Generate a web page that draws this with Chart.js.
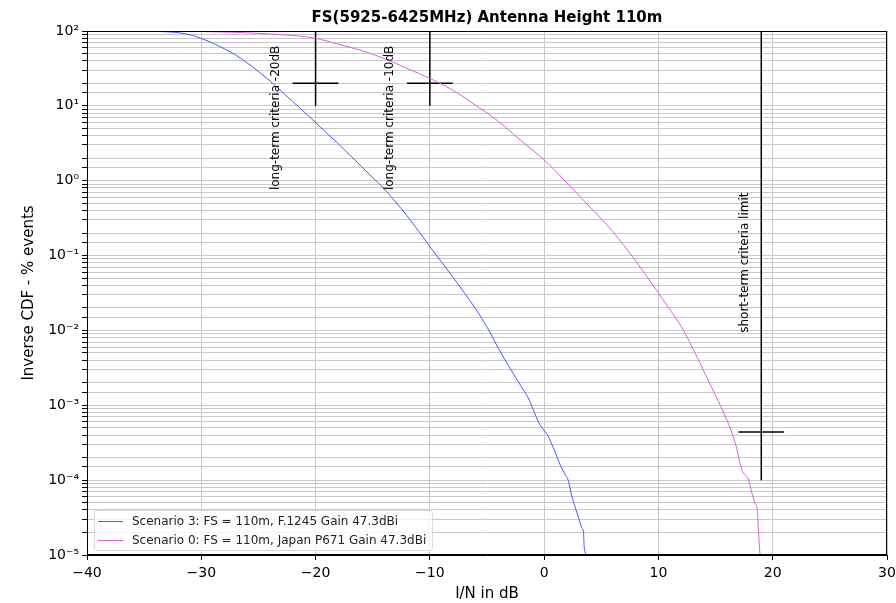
<!DOCTYPE html>
<html>
<head>
  <title>FS(5925-6425MHz) Antenna Height 110m</title>
  <script src="https://cdn.jsdelivr.net/npm/chart.js"></script>
  <style>
    body { margin: 0; background: white; }
    #wrap { width: 896px; height: 603px; }
  </style>
</head>
<body>
  <div id="wrap"><canvas id="cdfChart" width="896" height="603"></canvas></div>

  <script>
    // Curves (I/N in dB -> % of events exceeded)
    const scenario3Label = "Scenario 3: FS = 110m, F.1245 Gain 47.3dBi";
    const scenario3X = [-40, -38, -36, -35, -34, -33, -32, -31, -30, -29, -28, -27, -26, -25, -24, -23, -22, -21, -20,
      -19, -18, -17, -16, -15, -14, -13, -12, -11, -10, -9, -8, -7, -6, -5, -4, -3, -2, -1.4, -1, -0.4, 0,
      0.3, 0.6, 1.0, 1.3, 1.6, 1.9, 2.1, 2.4, 2.7, 3.0, 3.3, 3.45, 3.5, 3.8];
    const scenario3Y = [99.99, 99.95, 99.7, 99.4, 98.7, 97.6, 95, 89, 79.4, 69, 58, 47.9, 37.6, 28.8, 21.6, 15.7, 11.4, 8.3, 6.0,
      4.3, 3.1, 2.2, 1.56, 1.10, 0.78, 0.52, 0.34, 0.214, 0.132, 0.083, 0.052, 0.032, 0.0195, 0.0111, 0.00575, 0.00316, 0.00178, 0.00126, 9.1e-4, 5.6e-4, 4.6e-4,
      4.0e-4, 3.2e-4, 2.3e-4, 1.74e-4, 1.38e-4, 1.15e-4, 1.0e-4, 6.3e-5, 4.4e-5, 3.2e-5, 2.3e-5, 2.0e-5, 1.3e-5, 9.5e-6];

    const scenario0Label = "Scenario 0: FS = 110m, Japan P671 Gain 47.3dBi";
    const scenario0X = [-40, -35, -30, -27, -25, -22, -20, -18, -16, -15, -13, -12, -10, -8, -6, -4, -2, 0, 1,
      2, 3, 4, 5, 6, 7, 8, 9, 10, 11, 12, 13, 14, 15, 16, 16.5, 16.85, 17.1, 17.3, 17.6, 17.85, 18.15, 18.45, 18.65, 18.75, 18.88, 18.95];
    const scenario0Y = [99.99, 99.7, 98.5, 96, 93, 87, 80, 66.5, 55, 49, 37, 31.6, 23.3, 16.2, 10.2, 6.2, 3.4, 1.9, 1.35,
      0.93, 0.645, 0.447, 0.31, 0.21, 0.135, 0.085, 0.052, 0.0316, 0.019, 0.0112, 0.0058, 0.0028, 0.00135, 6.3e-4, 4.0e-4, 2.66e-4, 1.78e-4, 1.37e-4, 1.17e-4, 1.06e-4, 7.0e-5, 4.9e-5, 4.0e-5, 2.16e-5, 1.05e-5, 8e-6];

    // Criteria crosses: vertical line from bottom to 100 %, short horizontal bar at the level
    const criteriaX = [-20, -10, 19];
    const criteriaLevel = [20, 20, 4.4e-4];
    const criteriaBottom = [10, 10, 1e-4];
    const criteriaTop = 100;
    const criteriaHalfWidth = 2;

    // Rotated notes (x in dB, y = where the text starts)
    const noteText = ["long-term criteria -20dB", "long-term criteria -10dB", "short-term criteria limit"];
    const noteX = [-23.5, -13.5, 17.55];
    const noteY = [0.75, 0.75, 0.0093];

    const xTicks = [-40, -30, -20, -10, 0, 10, 20, 30];

    const FONT = '"DejaVu Sans", sans-serif';
    const sup = { '-': '\u207B', '0': '\u2070', '1': '\u00B9', '2': '\u00B2', '3': '\u00B3', '4': '\u2074',
                  '5': '\u2075', '6': '\u2076', '7': '\u2077', '8': '\u2078', '9': '\u2079' };

    const toPoints = (xs, ys) => xs.map((x, i) => ({ x: x, y: ys[i] }));

    const datasets = [
      { label: scenario3Label, data: toPoints(scenario3X, scenario3Y), borderColor: '#4658ff', borderWidth: 1, cubicInterpolationMode: 'monotone' },
      { label: scenario0Label, data: toPoints(scenario0X, scenario0Y), borderColor: '#dc5ee0', borderWidth: 1, cubicInterpolationMode: 'monotone' }
    ];
    criteriaX.forEach((x, i) => {
      datasets.push({ label: 'v' + i, data: [{ x: x, y: criteriaBottom[i] }, { x: x, y: criteriaTop }],
        borderColor: '#000', borderWidth: 1.5 });
      datasets.push({ label: 'h' + i, data: [{ x: x - criteriaHalfWidth, y: criteriaLevel[i] }, { x: x + criteriaHalfWidth, y: criteriaLevel[i] }],
        borderColor: '#000', borderWidth: 1.5 });
    });
    datasets.forEach(d => { d.pointRadius = 0; d.fill = false; });

    // frame, title, notes and legend
    const decor = {
      id: 'decor',
      afterDraw(chart) {
        const ctx = chart.ctx;
        const a = chart.chartArea;
        const xs = chart.scales.x, ys = chart.scales.y;
        ctx.save();
        ctx.strokeStyle = '#000';
        ctx.lineWidth = 1;
        ctx.strokeRect(a.left + 0.5, a.top + 0.5, a.right - a.left - 1, a.bottom - a.top - 1);

        ctx.fillStyle = '#000';
        ctx.font = 'bold 15px ' + FONT;
        ctx.textAlign = 'center';
        ctx.textBaseline = 'middle';
        ctx.fillText('FS(5925-6425MHz) Antenna Height 110m', (a.left + a.right) / 2, 18);

        ctx.font = '12px ' + FONT;
        ctx.textAlign = 'left';
        noteText.forEach((t, i) => {
          ctx.save();
          ctx.translate(xs.getPixelForValue(noteX[i]), ys.getPixelForValue(noteY[i]));
          ctx.rotate(-Math.PI / 2);
          ctx.fillText(t, 0, 0);
          ctx.restore();
        });

        // legend box, lower left inside the axes
        const lx = a.left + 7, ly = a.bottom - 45, lw = 338, lh = 40;
        ctx.fillStyle = 'rgba(255,255,255,0.8)';
        ctx.strokeStyle = '#d8d8d8';
        ctx.beginPath();
        ctx.roundRect(lx + 0.5, ly + 0.5, lw, lh, 3);
        ctx.fill();
        ctx.stroke();
        ctx.font = '12px ' + FONT;
        [0, 1].forEach(i => {
          const y = ly + 11 + i * 19;
          ctx.strokeStyle = datasets[i].borderColor;
          ctx.lineWidth = 1;
          ctx.beginPath();
          ctx.moveTo(lx + 4, y + 0.5);
          ctx.lineTo(lx + 29, y + 0.5);
          ctx.stroke();
          ctx.fillStyle = '#222';
          ctx.fillText(datasets[i].label, lx + 38, y + 1);
        });
        ctx.restore();
      }
    };

    const ctx = document.getElementById('cdfChart').getContext('2d');
    new Chart(ctx, {
      type: 'line',
      data: { datasets: datasets },
      options: {
        responsive: false,
        animation: false,
        layout: { padding: { top: 31, right: 9, left: 0, bottom: 0 } },
        plugins: { legend: { display: false }, tooltip: { enabled: false } },
        scales: {
          x: {
            type: 'linear', min: -40, max: 30,
            afterBuildTicks: s => { s.ticks = xTicks.map(v => ({ value: v })); },
            afterFit: s => { s.height = 48; s.paddingLeft = 0; s.paddingRight = 0; },
            ticks: {
              color: '#000', padding: 5, maxRotation: 0,
              font: { family: FONT, size: 14 },
              callback: v => v < 0 ? '\u2212' + Math.abs(v) : String(v)
            },
            grid: { color: '#c8c8c8', lineWidth: 1, tickColor: '#000', tickLength: 5 },
            border: { color: '#000' },
            title: { display: true, text: 'I/N in dB', color: '#000', font: { family: FONT, size: 15 }, padding: { top: 1, bottom: 0 } }
          },
          y: {
            type: 'logarithmic', min: 1e-5, max: 100,
            afterFit: s => { s.width = 87; s.paddingTop = 0; s.paddingBottom = 0; },
            ticks: {
              color: '#000', padding: 3, autoSkip: false,
              font: { family: FONT, size: 14 },
              callback: v => {
                const e = Math.log10(v);
                if (Math.abs(e - Math.round(e)) > 1e-6) return '';
                return '10' + String(Math.round(e)).split('').map(c => sup[c]).join('');
              }
            },
            grid: { color: '#c8c8c8', lineWidth: 1, tickColor: '#000', tickLength: 5 },
            border: { color: '#000' },
            title: { display: true, text: 'Inverse CDF - % events', color: '#000', font: { family: FONT, size: 15 }, padding: { top: 20, bottom: 0 } }
          }
        }
      },
      plugins: [decor]
    });
  </script>
</body>
</html>
